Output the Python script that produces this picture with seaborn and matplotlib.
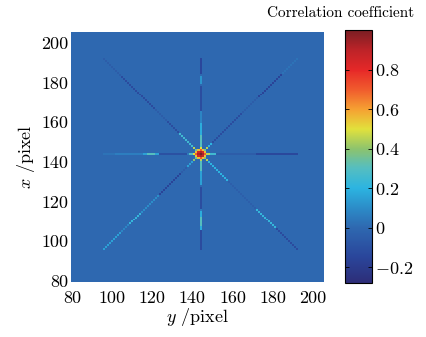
import numpy as np
import matplotlib
matplotlib.use("Agg")
import matplotlib.pyplot as plt
import seaborn as sns
from matplotlib.colors import LinearSegmentedColormap

# pixel grid (both axes) and centre of the correlation peak
pixels = np.arange(80, 206)
center = 144
axis_ticks = [80, 100, 120, 140, 160, 180, 200]
cbar_ticks = [-0.2, 0, 0.2, 0.4, 0.6, 0.8]
cbar_labels = ["$-0.2$", "$0$", "$0.2$", "$0.4$", "$0.6$", "$0.8$"]
v_min, v_max = -0.28, 1.0

# 5x5 core around the peak, top row = x+2, left column = y-2
core = [
    [0.35, 0.55, 0.70, 0.55, 0.35],
    [0.55, 0.85, 0.92, 0.85, 0.55],
    [0.70, 0.92, 1.00, 0.92, 0.70],
    [0.55, 0.85, 0.92, 0.88, 0.55],
    [0.35, 0.55, 0.70, 0.55, 0.40],
]

# ray profiles: (first distance, last distance, value) read along each arm
ray_n = [(3, 3, 0.5), (4, 9, 0.3), (10, 15, 0.18), (16, 21, 0.08), (22, 34, -0.12),
         (35, 35, 0.0), (36, 39, 0.12), (40, 40, 0.0), (41, 48, -0.15)]
ray_s = [(3, 3, 0.45), (4, 8, 0.3), (9, 15, 0.15), (16, 16, 0.0), (17, 27, -0.12),
         (28, 28, 0.05), (29, 31, 0.18), (32, 36, 0.3), (37, 38, 0.18), (39, 48, -0.13)]
ray_w = [(3, 3, 0.5), (4, 5, 0.3), (6, 6, 0.05), (7, 20, -0.1), (21, 22, 0.15),
         (23, 26, 0.3), (27, 28, 0.15), (29, 42, 0.06), (43, 48, 0.03)]
ray_e = [(3, 4, 0.45), (5, 7, 0.25), (8, 27, -0.05), (28, 48, -0.14)]
ray_nw = [(3, 3, 0.45), (4, 10, 0.25), (11, 16, -0.12), (17, 22, -0.05),
          (23, 39, -0.13), (40, 48, -0.05)]
ray_ne = [(3, 3, 0.45), (4, 5, 0.2), (6, 20, -0.12), (21, 28, -0.05),
          (29, 40, -0.16), (41, 48, 0.03)]
ray_se = [(3, 3, 0.45), (4, 13, 0.2), (14, 27, -0.04), (28, 37, 0.22), (38, 48, -0.13)]
ray_sw = [(3, 3, 0.4), (4, 6, 0.15), (7, 9, -0.05), (10, 20, -0.16), (21, 29, 0.1),
          (30, 35, 0.22), (36, 39, 0.08), (40, 48, 0.15)]

# muted jet, as printed in the reference
cmap_stops = [-0.28, -0.15, 0.0, 0.1, 0.2, 0.3, 0.4, 0.5, 0.6, 0.7, 0.8, 0.9, 1.0]
cmap_colors = ["#2d2d78", "#2a469b", "#2e68b0", "#2c8cc8", "#2cb4e1", "#55bec0",
               "#8cc36e", "#e1e13c", "#f5a032", "#f05a2d", "#e62828", "#be2328", "#7a1e23"]

cmap = LinearSegmentedColormap.from_list(
    "printed_jet",
    [((s - v_min) / (v_max - v_min), c) for s, c in zip(cmap_stops, cmap_colors)])

# rows = x, columns = y
grid = np.zeros((len(pixels), len(pixels)))
ci = center - pixels[0]
for i, row in enumerate(core):
    for j, val in enumerate(row):
        grid[ci + 2 - i, ci - 2 + j] = val

arms = {(1, 0): ray_n, (-1, 0): ray_s, (0, 1): ray_e, (0, -1): ray_w,
        (1, -1): ray_nw, (1, 1): ray_ne, (-1, 1): ray_se, (-1, -1): ray_sw}
for (sx, sy), segs in arms.items():
    for d0, d1, val in segs:
        for d in range(d0, d1 + 1):
            grid[ci + sx * d, ci + sy * d] = val

plt.rcParams["font.family"] = "cmr10"
plt.rcParams["mathtext.fontset"] = "cm"
plt.rcParams["axes.formatter.use_mathtext"] = True

fig = plt.figure(figsize=(4.27, 3.37), dpi=100)
ax = fig.add_axes([71 / 427, 1 - 282 / 337, 253 / 427, 250 / 337])
cax = fig.add_axes([345 / 427, 1 - 283 / 337, 27 / 427, 253 / 337])

sns.heatmap(grid, ax=ax, cbar_ax=cax, cmap=cmap, vmin=v_min, vmax=v_max,
            xticklabels=False, yticklabels=False, rasterized=True)
ax.invert_yaxis()

pos = [t - pixels[0] + 0.5 for t in axis_ticks]
ax.set_xticks(pos)
ax.set_xticklabels([str(t) for t in axis_ticks])
ax.set_yticks(pos)
ax.set_yticklabels([str(t) for t in axis_ticks], rotation=0)
ax.tick_params(axis="x", length=0, labelsize=13, pad=6)
ax.tick_params(axis="y", length=0, labelsize=13, pad=2)
ax.set_xlabel("$y$ /pixel", fontsize=13, labelpad=0)
ax.set_ylabel("$x$ /pixel", fontsize=13, labelpad=3)
for sp in ax.spines.values():
    sp.set_visible(False)

cbar = ax.collections[0].colorbar
cbar.set_ticks(cbar_ticks)
cbar.set_ticklabels(cbar_labels)
cbar.outline.set_linewidth(0.8)
cax.yaxis.set_ticks_position("both")
cax.tick_params(direction="in", length=3, width=0.6, labelsize=13, pad=2,
                labelright=True, labelleft=False)

fig.text(414 / 427, 1 - 13 / 337, "Correlation coefficient", ha="right", va="center",
         fontsize=11)

fig.savefig("out.png", dpi=100)
plt.close(fig)
